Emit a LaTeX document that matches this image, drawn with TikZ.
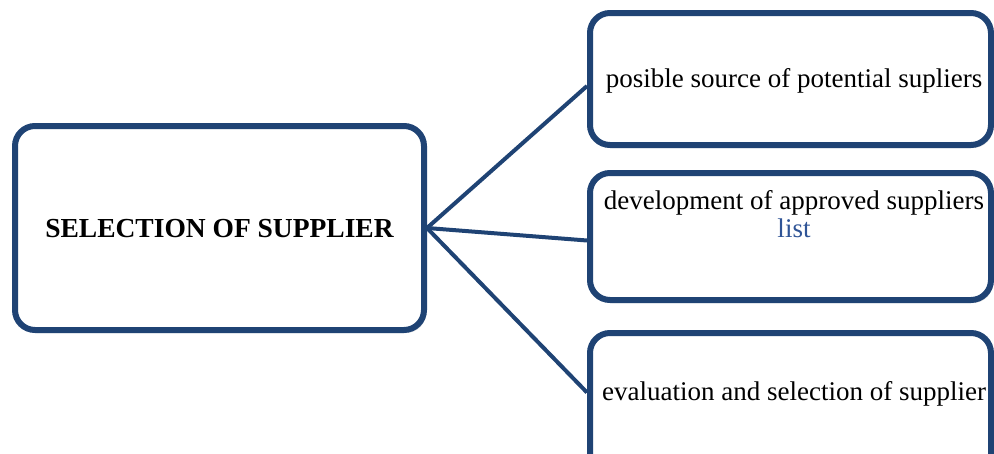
\documentclass[tikz,border=0pt]{standalone}
\usepackage{fontspec}
\setmainfont{Liberation Serif}
\usetikzlibrary{shadows}
\definecolor{boxblue}{RGB}{31,67,116}
\definecolor{listblue}{RGB}{47,84,150}
\tikzset{
  box/.style={draw=boxblue, line width=6pt, rounded corners=20pt, fill=white,
    drop shadow={shadow xshift=2pt, shadow yshift=-3pt, opacity=0.25}},
  link/.style={draw=boxblue, line width=4pt},
  lbl/.style={font=\fontsize{27}{28}\selectfont, align=center}
}
\begin{document}
\begin{tikzpicture}[x=1pt,y=-1pt]
\useasboundingbox (0,0) rectangle (994,453);
\clip (0,0) rectangle (994,453);
\node[box, minimum width=409pt, minimum height=204pt] (L) at (219.5,228) {};
\node[box, minimum width=401pt, minimum height=132pt] (A) at (790.5,79) {};
\node[box, minimum width=401pt, minimum height=127pt] (B) at (790.5,236.5) {};
\node[box, minimum width=401pt, minimum height=167pt] (C) at (790.5,416.5) {};
\node[lbl, font=\fontsize{27.5}{28}\selectfont\bfseries] (Lt) at (219.5,229) {SELECTION OF SUPPLIER};
\node[lbl] (At) at (794,81) {posible source of potential supliers};
\node[lbl] (Bt) at (794,214) {development of approved suppliers\\\textcolor{listblue}{list}};
\node[lbl] (Ct) at (794,394) {evaluation and selection of supplier};
\draw[link] (L.east) -- ([yshift=-7pt]A.west);
\draw[link] (L.east) -- ([yshift=-4pt]B.west);
\draw[link] (L.east) -- ([yshift=24pt]C.west);
\end{tikzpicture}
\end{document}
